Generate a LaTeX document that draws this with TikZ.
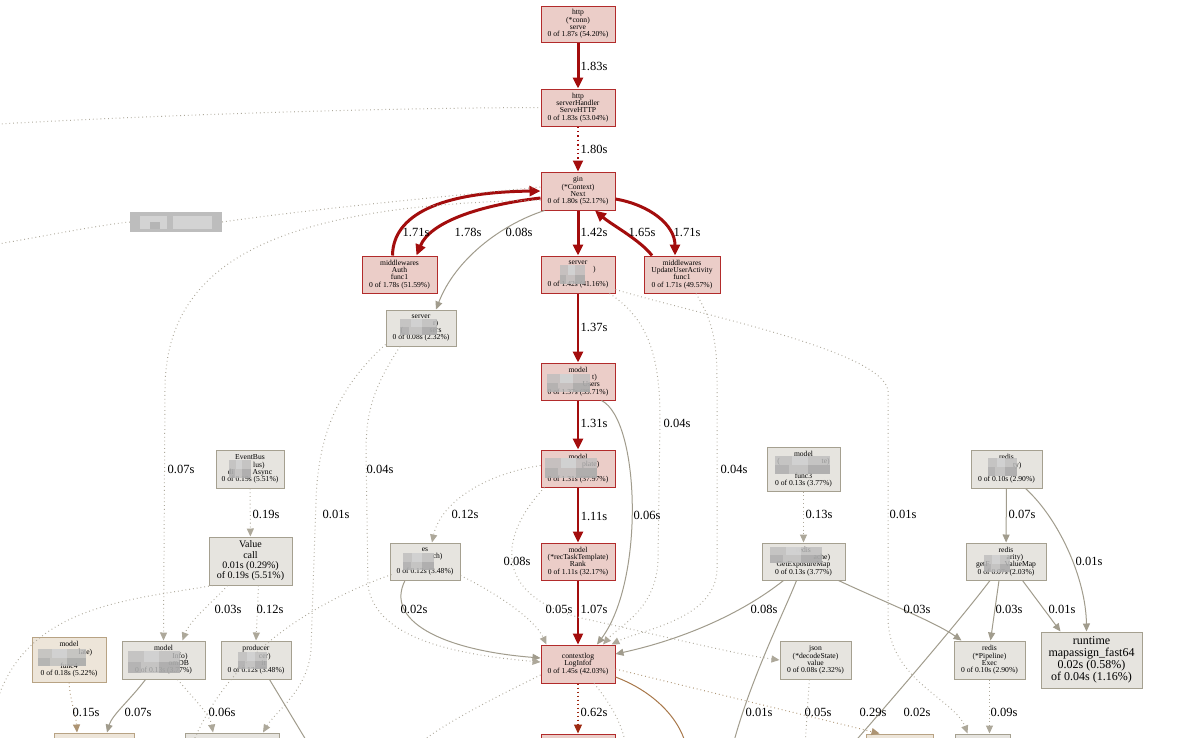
\documentclass[tikz,border=0pt]{standalone}
\usepackage{fontspec}
\setmainfont{Liberation Serif}
\usetikzlibrary{arrows.meta,calc}
\definecolor{redf}{HTML}{EBCDC8}
\definecolor{redb}{HTML}{B22B2B}
\definecolor{grayf}{HTML}{E6E4DF}
\definecolor{grayb}{HTML}{A5A090}
\definecolor{tanf}{HTML}{EDE5D9}
\definecolor{tanb}{HTML}{B8A384}
\definecolor{hot}{HTML}{A30D0D}
\definecolor{edg}{HTML}{A19C8D}
\definecolor{dotc}{HTML}{ADA89A}
\definecolor{tdot}{HTML}{AD9473}
\definecolor{brn}{HTML}{A8784A}
\definecolor{rbrn}{HTML}{9E2A12}
\definecolor{blurA}{HTML}{BDBDBD}
\definecolor{blurB}{HTML}{D3D3D3}
\definecolor{blurC}{HTML}{A2A2A2}
\newcommand{\pixblur}[4]{%
  \fill[blurA,opacity=.8] (#1,#2) rectangle (#3,#4);
  \fill[blurB,opacity=.9] ({#1+0.3*(#3-#1)},#2) rectangle ({#1+0.6*(#3-#1)},{#2+0.5*(#4-#2)});
  \fill[blurC,opacity=.6] ({#1+0.6*(#3-#1)},{#2+0.5*(#4-#2)}) rectangle (#3,#4);
  \fill[blurC,opacity=.45] (#1,{#2+0.5*(#4-#2)}) rectangle ({#1+0.25*(#3-#1)},#4);}
\begin{document}
\begin{tikzpicture}[x=1pt,y=-1pt,
  box/.style={draw, line width=1pt, align=center, inner sep=0pt, font=\fontsize{7.6}{7.3}\selectfont},
  rn/.style={box, draw=redb, fill=redf},
  gn/.style={box, draw=grayb, fill=grayf},
  tn/.style={box, draw=tanb, fill=tanf},
  sz/.style 2 args={minimum width=#1pt, minimum height=#2pt},
  lab/.style={font=\fontsize{12.5}{13}\selectfont, inner sep=0pt},
  hotE/.style={draw=hot, line width=#1pt, -{Triangle[length=11pt,width=10pt]}},
  hotE/.default=3,
  hotD/.style={draw=hot, line width=2pt, dash pattern=on 1.4pt off 3pt, -{Triangle[length=11pt,width=10pt]}},
  rdot/.style={draw=rbrn, line width=1.2pt, dash pattern=on 1pt off 3pt, -{Triangle[length=9pt,width=8pt]}},
  solE/.style={draw=edg, line width=1pt, -{Triangle[length=8pt,width=7pt]}},
  solN/.style={draw=edg, line width=1pt},
  brnN/.style={draw=brn, line width=1pt},
  dotE/.style={draw=dotc, line width=1pt, dash pattern=on 0.8pt off 3pt, -{Triangle[length=8pt,width=7pt]}},
  tdotE/.style={draw=tdot, line width=1pt, dash pattern=on 0.8pt off 3pt, -{Triangle[length=8pt,width=7pt]}},
  dotN/.style={draw=dotc, line width=1pt, dash pattern=on 0.8pt off 3pt}]
\useasboundingbox (0,0) rectangle (1200,737);
\fill[white] (0,0) rectangle (1200,737);
\clip (0,0) rectangle (1200,737);

% ---------- free ends ----------
\coordinate (o1) at (733,745);
\coordinate (o2) at (852,745);
\coordinate (o3) at (-2,698);
\coordinate (o4) at (-2,124);
\coordinate (o5) at (-2,244);
\coordinate (o6) at (418,745);
\coordinate (o7) at (626,745);
\coordinate (o8) at (686,745);
\coordinate (o9) at (805,745);
\coordinate (o10) at (309,745);
\coordinate (o11) at (192,745);

% ---------- nodes ----------
\node[rn, sz={74}{36}] (serve) at (578,24) {http\\(*conn)\\serve\\0 of 1.87s (54.20\%)};
\node[rn, sz={74}{37}] (sh) at (578,107.5) {http\\serverHandler\\ServeHTTP\\0 of 1.83s (53.04\%)};
\node[rn, sz={74}{38}] (gin) at (578,191) {gin\\(*Context)\\Next\\0 of 1.80s (52.17\%)};
\node[rn, sz={75}{37}] (auth) at (399.5,274.5) {middlewares\\Auth\\func1\\0 of 1.78s (51.59\%)};
\node[rn, sz={74}{37}] (srv) at (578,274.5) {server\\\phantom{(xxxxxxxx})\\\phantom{getUsers}\\0 of 1.42s (41.16\%)};
\node[rn, sz={76}{37}] (uua) at (682,274.5) {middlewares\\UpdateUserActivity\\func1\\0 of 1.71s (49.57\%)};
\node[gn, sz={70}{36}] (srvs) at (421,328) {server\\\phantom{(xxxxxxx}r)\\(\phantom{xxxxxxx}sers\\0 of 0.08s (2.32\%)};
\node[rn, sz={74}{37}] (users) at (578,381.5) {model\\\phantom{(xxxxxxxx}t)\\\phantom{xxxxxxx}Users\\0 of 1.37s (39.71\%)};
\node[rn, sz={74}{37}] (plate) at (578,468.5) {model\\\phantom{(xxxxxx}plate)\\\phantom{Rank}\\0 of 1.31s (37.97\%)};
\node[rn, sz={74}{37}] (rank) at (578,561.5) {model\\(*recTaskTemplate)\\Rank\\0 of 1.11s (32.17\%)};
\node[rn, sz={74}{38}] (log) at (578,664) {contextlog\\LogInfof\\0 of 1.45s (42.03\%)};
\node[gn, sz={68}{38}] (evb) at (250,469) {EventBus\\\phantom{(xxxx}lus)\\di\phantom{xxxxx}Async\\0 of 0.19s (5.51\%)};
\node[gn, sz={83}{48}, font=\fontsize{10}{10.3}\selectfont] (vcall) at (250.5,561) {Value\\call\\0.01s (0.29\%)\\of 0.19s (5.51\%)};
\node[gn, sz={70}{37}] (es) at (425,561.5) {es\\\phantom{(xxxxxx}ch)\\\phantom{x}\\0 of 0.12s (3.48\%)};
\node[gn, sz={73}{44}] (func3) at (803.5,469) {model\\(\phantom{xxxxxxxxxxx}te)\\\phantom{x}\\func3\\0 of 0.13s (3.77\%)};
\node[gn, sz={83}{37}] (gem) at (803.5,561.5) {redis\\\phantom{(xxxxxxxxx}ache)\\GetExposureMap\\0 of 0.13s (3.77\%)};
\node[gn, sz={71}{38}] (rty) at (1006.5,469) {redis\\\phantom{(xxxxx}ty)\\\phantom{x}\\0 of 0.10s (2.90\%)};
\node[gn, sz={80}{37}] (getf) at (1006,561.5) {redis\\\phantom{(xxxx}arity)\\getF\phantom{xxxx}ValueMap\\0 of 0.07s (2.03\%)};
\node[gn, sz={71}{38}] (exec) at (989.5,660) {redis\\(*Pipeline)\\Exec\\0 of 0.10s (2.90\%)};
\node[gn, sz={101}{56}, font=\fontsize{12}{12}\selectfont] (rt) at (1091.5,660) {runtime\\mapassign\_fast64\\0.02s (0.58\%)\\of 0.04s (1.16\%)};
\node[gn, sz={71}{38}] (json) at (815.5,660) {json\\(*decodeState)\\value\\0 of 0.08s (2.32\%)};
\node[tn, sz={74}{45}] (func4) at (69,659.5) {model\\\phantom{(xxxxxxxx}late)\\\phantom{x}\\func4\\0 of 0.18s (5.22\%)};
\node[gn, sz={83}{38}] (omdb) at (163.5,660) {model\\\phantom{(xxxxxxxx}Info)\\\phantom{xxxxxxxx}omDB\\0 of 0.13s (3.77\%)};
\node[gn, sz={70}{38}] (prod) at (256,660) {producer\\\phantom{(xxxx}cer)\\\phantom{xxxx}it\\0 of 0.12s (3.48\%)};
% nodes cut by the lower edge
\node[tn, sz={80}{24}] (b1) at (94,745) {};
\node[gn, sz={94}{24}] (b2) at (232,745) {};
\node[rn, sz={74}{24}] (b3) at (578,746) {};
\node[tn, sz={67}{24}] (b4) at (899.5,746) {};
\node[gn, sz={55}{24}] (b5) at (982.5,746) {};
% blurred free label
\node[fill=blurA, minimum width=92pt, minimum height=20pt, inner sep=0pt] (bl) at (176,222) {};

% ---------- hot edges ----------
\draw[hotE] (serve) -- (sh);
\draw[hotD] (sh) -- (gin);
\draw[hotE] ($(auth.north)+(-7,0)$) .. controls (393,215) and (440,192) .. (gin.west);
\draw[hotE] ($(gin.west)+(0,7)$) .. controls (480,205) and (430,222) .. ($(auth.north)+(17,0)$);
\draw[hotE] (gin) -- (srv);
\draw[hotE] ($(uua.north)+(-30,0)$) .. controls (640,240) and (612,225) .. ($(gin.south)+(17,0)$);
\draw[hotE] ($(gin.east)+(0,8)$) .. controls (650,205) and (675,225) .. ($(uua.north)+(-7,0)$);
\draw[hotE=2.8] (srv) -- (users);
\draw[hotE=2.7] (users) -- (plate);
\draw[hotE=2.4] (plate) -- (rank);
\draw[hotE=2.3] (rank) -- (log);
\draw[rdot] (log) -- (b3);

% ---------- solid grey edges ----------
\draw[solE] ($(gin.south west)+(4,0)$) .. controls (500,225) and (455,260) .. ($(srvs.north)+(15,0)$);
\draw[solE] ($(users.south east)+(-14,0)$) .. controls (640,420) and (645,580) .. ($(log.north)+(19,0)$);
\draw[solE] ($(es.south)+(-20,0)$) .. controls (385,620) and (440,650) .. ($(log.west)+(0,-6)$);
\draw[solE] ($(gem.south)+(-20,0)$) .. controls (740,615) and (680,640) .. ($(log.east)+(0,-10)$);
\draw[solE] ($(gem.south east)+(-7,0)$) .. controls (880,600) and (935,622) .. ($(exec.north west)+(8,0)$);
\draw[solN] ($(gem.south)+(-7,0)$) .. controls (785,610) and (750,680) .. (o1);
\draw[solE] (rty) -- (getf);
\draw[solE] ($(rty.south east)+(-17,0)$) .. controls (1060,520) and (1086,580) .. ($(rt.north)+(-5,0)$);
\draw[solE] ($(getf.south east)+(-24,0)$) -- ($(rt.north west)+(20,0)$);
\draw[solE] ($(getf.south)+(-7,0)$) -- ($(exec.north)+(1,0)$);
\draw[solN] ($(getf.south)+(-16,0)$) .. controls (960,620) and (900,690) .. (o2);
\draw[solE] ($(omdb.south)+(-18,0)$) .. controls (130,700) and (112,715) .. ($(b1.north)+(13,0)$);
\draw[solN] ($(prod.south east)+(-22,0)$) -- (o10);
\draw[brnN] ($(log.east)+(0,13)$) .. controls (650,690) and (678,715) .. (o8);

% ---------- dotted edges ----------
\draw[dotN] (o4) .. controls (200,113) and (400,108) .. (sh.west);
\draw[dotN] (o5) .. controls (50,235) and (100,225) .. (bl.west);
\draw[dotN] (bl.east) .. controls (320,208) and (450,196) .. ($(gin.west)+(0,-4)$);
\draw[dotE] ($(gin.west)+(0,9)$) .. controls (300,205) and (165,250) .. (165,390) -- (omdb.north);
\draw[dotE] ($(srvs.south west)+(0,-2)$) .. controls (335,390) and (318,440) .. (316,500) -- (311,650) .. controls (308,690) and (275,712) .. ($(b2.north)+(31,0)$);
\draw[dotE] ($(srvs.south)+(-21,0)$) .. controls (375,385) and (366,410) .. (366,450) -- (368,585) .. controls (375,640) and (460,655) .. ($(log.west)+(0,-2)$);
\draw[dotE] (evb) -- (vcall);
\draw[dotE] ($(vcall.south)+(8,0)$) -- (prod.north);
\draw[dotE] ($(vcall.south)+(-23,0)$) .. controls (215,600) and (190,620) .. ($(omdb.north)+(19,0)$);
\draw[dotN] ($(vcall.south west)+(4,0)$) .. controls (130,600) and (30,605) .. (o3);
\draw[dotN] ($(es.south west)+(2,-6)$) .. controls (320,600) and (230,650) .. (o11);
\draw[dotE] ($(plate.west)+(0,-3)$) .. controls (480,475) and (440,505) .. ($(es.north)+(7,0)$);
\draw[dotE] ($(plate.south west)+(4,0)$) .. controls (495,540) and (495,600) .. (590,620) .. controls (680,640) and (740,655) .. (json.west);
\draw[dotE] ($(es.south east)+(0,-5)$) .. controls (500,595) and (535,620) .. ($(log.north west)+(6,0)$);
\draw[dotE] ($(srv.south east)+(-6,0)$) .. controls (650,320) and (660,360) .. (660,420) -- (658,560) .. controls (656,610) and (620,625) .. ($(log.north)+(25,0)$);
\draw[dotE] ($(uua.south)+(14,0)$) .. controls (712,320) and (717,340) .. (717,380) -- (717,570) .. controls (715,620) and (640,630) .. ($(log.north east)+(-4,0)$);
\draw[dotE] ($(srv.south east)+(0,-4)$) .. controls (700,315) and (880,350) .. (888,390) -- (888,620) .. controls (890,680) and (955,700) .. ($(b5.north)+(-15,0)$);
\draw[dotE] (func3) -- (gem);
\draw[tdotE] ($(log.east)+(0,5)$) -- ($(b4.north)+(-20,0)$);
\draw[dotN] ($(log.west)+(0,11)$) .. controls (500,695) and (440,725) .. (o6);
\draw[dotN] ($(log.south)+(16,0)$) .. controls (612,705) and (622,725) .. (o7);
\draw[dotN] ($(json.south)+(-6,0)$) -- (o9);
\draw[dotE] (exec.south) -- ($(b5.north)+(7,0)$);
\draw[tdotE] (func4.south) .. controls (70,700) and (76,715) .. ($(b1.north)+(-17,0)$);
\draw[dotE] ($(omdb.south)+(14,0)$) .. controls (195,700) and (210,715) .. ($(b2.north)+(-19,0)$);

% ---------- pixelated parts ----------
\pixblur{560}{265}{585}{284}
\pixblur{400}{319}{437}{335}
\pixblur{547}{374}{590}{392}
\pixblur{545}{458}{597}{478}
\pixblur{229}{460}{251}{478}
\pixblur{403}{553}{434}{570}
\pixblur{775}{456}{830}{474}
\pixblur{770}{547}{822}{563}
\pixblur{988}{458}{1017}{476}
\pixblur{984}{555}{1010}{572}
\pixblur{38}{649}{86}{666}
\pixblur{128}{651}{180}{673}
\pixblur{238}{652}{267}{669}
\fill[blurB] (140,216) rectangle (167,229);
\fill[blurB] (173,216) rectangle (212,229);
\fill[blurC,opacity=.6] (150,222) rectangle (160,229);

% ---------- edge labels ----------
\foreach \lx/\ly/\lt [count=\i] in {594/66/1.83s, 594/149/1.80s, 416/232/1.71s, 468/232/1.78s,
  519/232/0.08s, 594/232/1.42s, 642/232/1.65s, 687/232/1.71s, 594/327/1.37s, 594/423/1.31s,
  677/423/0.04s, 181/469/0.07s, 380/469/0.04s, 734/469/0.04s, 266/514/0.19s, 336/514/0.01s,
  465/514/0.12s, 594/516/1.11s, 647/515/0.06s, 819/514/0.13s, 903/514/0.01s, 1022/514/0.07s,
  517/561/0.08s, 1089/561/0.01s, 228/609/0.03s, 270/609/0.12s, 414/609/0.02s, 559/609/0.05s,
  594/609/1.07s, 764/609/0.08s, 917/609/0.03s, 1009/609/0.03s, 1062/609/0.01s,
  86/712/0.15s, 138/712/0.07s, 222/712/0.06s, 594/712/0.62s, 759/712/0.01s, 818/712/0.05s,
  873/712/0.29s, 917/712/0.02s, 1004/712/0.09s}
  \node[lab] (lab\i) at (\lx,\ly) {\lt};
\end{tikzpicture}
\end{document}
